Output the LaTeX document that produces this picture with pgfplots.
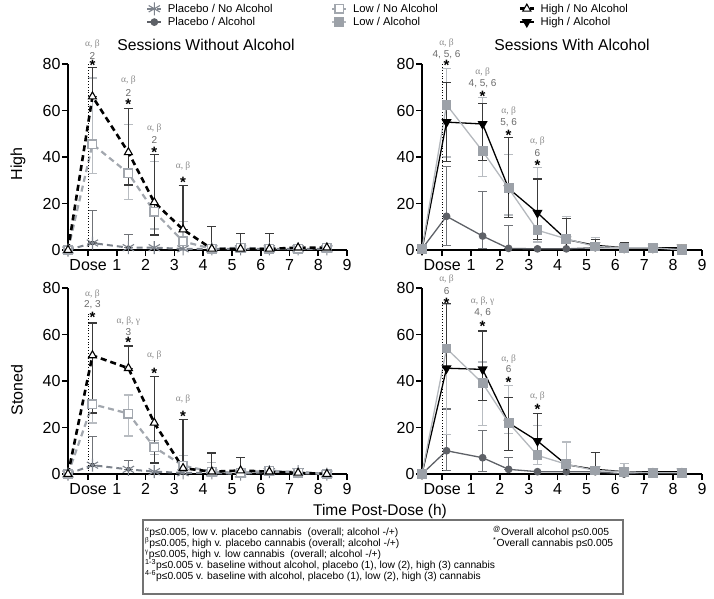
\documentclass[border=0pt]{standalone}
\usepackage{fontspec}
\setmainfont{Liberation Sans}
\newfontfamily\grk{Liberation Serif}
\usepackage{pgfplots}
\pgfplotsset{compat=1.18}

\definecolor{cPN}{HTML}{7D838C}
\definecolor{cLN}{HTML}{A2A7AE}
\definecolor{cPA}{HTML}{5E6167}
\definecolor{cLA}{HTML}{9CA1A8}
\definecolor{cLAl}{HTML}{B4B8BD}
\definecolor{eH}{HTML}{3A3A3A}
\definecolor{eL}{HTML}{B8BCC1}
\definecolor{eP}{HTML}{707378}
\definecolor{cAnn}{HTML}{8A8A8A}
\definecolor{cNum}{HTML}{6A6A6A}

\pgfplotsset{
  panel/.style={scale only axis, height=186pt,
    xmin=-0.7, xmax=9, ymin=0, ymax=80,
    axis x line*=bottom, axis y line*=left,
    axis line style={line width=2pt, -},
    xtick={0,...,9}, xticklabels={Dose,1,2,3,4,5,6,7,8,9},
    ytick={0,20,40,60,80},
    tick align=outside, major tick length=6pt,
    tick style={line width=1.6pt, black},
    /pgf/number format/assume math mode=true,
    ticklabel style={font=\fontsize{16}{18}\selectfont},
    yticklabel style={xshift=2pt},
    clip=false},
  legend image code/.code={
    \draw[mark repeat=2, mark phase=2, #1] plot coordinates {(0pt,0pt) (7pt,0pt) (14pt,0pt)};},
  dsh/.style={dash pattern=on 6pt off 4pt},
  pn/.style={color=cPN, line width=2pt, dsh, mark=asterisk, mark size=6.5pt,
    mark options={solid, line width=1.1pt}},
  ln/.style={color=cLN, line width=2.2pt, dsh, mark=square*, mark size=4.2pt,
    mark options={solid, fill=white, draw=cLN, line width=1.6pt}},
  hn/.style={color=black, line width=2.6pt, dsh, mark=triangle*, mark size=4.6pt,
    mark options={solid, fill=white, draw=black, line width=1.1pt}},
  pa/.style={color=cPA, line width=1.3pt, mark=*, mark size=3.2pt,
    mark options={fill=cPA, draw=cPA}},
  la/.style={color=cLAl, line width=1.3pt, mark=square*, mark size=4.3pt,
    mark options={fill=cLA, draw=cLA}},
  ha/.style={color=black, line width=1.3pt, mark=triangle*, mark size=4.6pt,
    mark options={rotate=180, fill=black}},
  eb/.style={forget plot, only marks, mark=none,
    error bars/.cd, y dir=both, y explicit,
    error bar style={color=#1, line width=1.3pt, solid},
    error mark options={rotate=90, color=#1, line width=1.3pt, mark size=4.5pt}},
}

\tikzset{
  gk/.style={font=\grk\fontsize{9.5}{9.5}\selectfont, text=cAnn, inner sep=0pt},
  nm/.style={font=\fontsize{10}{10}\selectfont, text=cNum, inner sep=0pt},
  st/.style={font=\bfseries\fontsize{15}{15}\selectfont, inner sep=0pt, yshift=-3.5pt},
}

\begin{document}
\begin{tikzpicture}[x=1pt, y=1pt]
\path[use as bounding box] (0pt,0pt) rectangle (714pt,598pt);

% ---------- High, sessions without alcohol ----------
\begin{axis}[panel, width=279pt, at={(68pt,348pt)},
  legend columns=3,
  legend style={at={(rel axis cs:0.28,1.333)}, anchor=north west,
    draw=none, fill=none, inner sep=0pt, row sep=0.5pt,
    font=\fontsize{11.3}{13}\selectfont, nodes={inner sep=1.5pt}},
  legend cell align=left]
\addlegendimage{pn}\addlegendentry{\makebox[166pt][l]{\hspace{4pt}Placebo / No Alcohol}}
\addlegendimage{ln}\addlegendentry{\makebox[168pt][l]{\hspace{4pt}Low / No Alcohol}}
\addlegendimage{hn}\addlegendentry{\makebox[120pt][l]{\hspace{4pt}High / No Alcohol}}
\addlegendimage{pa}\addlegendentry{\makebox[166pt][l]{\hspace{4pt}Placebo / Alcohol}}
\addlegendimage{la}\addlegendentry{\makebox[168pt][l]{\hspace{4pt}Low / Alcohol}}
\addlegendimage{ha}\addlegendentry{\makebox[120pt][l]{\hspace{4pt}High / Alcohol}}

\addplot[eb=eP] coordinates {(0.15,3) += (0,14) -= (0,0) (1.4,1) += (0,5.6) -= (0,0)};
\addplot[eb=eL] coordinates {(0.15,45.5) += (0,28.5) -= (0,12.5) (1.4,33) += (0,21) -= (0,11.4)
  (2.3,16.5) += (0,21.5) -= (0,7.5) (3.3,3.7) += (0,8.7) -= (0,3.7)};
\addplot[eb=eH] coordinates {(0.15,66) += (0,12.6) -= (0,0) (1.4,42) += (0,19) -= (0,14)
  (2.3,20.5) += (0,20.5) -= (0,14) (3.3,8.8) += (0,19) -= (0,0)
  (4.3,0.5) += (0,9.5) -= (0,0) (5.3,0.5) += (0,6.5) -= (0,0) (6.3,0.5) += (0,6.5) -= (0,0)};

\addplot[pn, forget plot] coordinates {(-0.7,0) (0.15,3) (1.4,1) (2.3,1) (3.3,0.5) (4.3,0.5) (5.3,0.5) (6.3,0.5) (7.3,0.5) (8.3,0.5)};
\addplot[ln, forget plot] coordinates {(-0.7,0) (0.15,45.5) (1.4,33) (2.3,16.5) (3.3,3.7) (4.3,0.5) (5.3,1) (6.3,0.5) (7.3,0.5) (8.3,1)};
\addplot[hn, forget plot] coordinates {(-0.7,0) (0.15,66) (1.4,42) (2.3,20.5) (3.3,8.8) (4.3,0.5) (5.3,0.5) (6.3,0.5) (7.3,1) (8.3,1)};

\draw[dotted, line width=0.8pt] (axis cs:0,0) -- (axis cs:0,80);
\node[gk] at (axis cs:0.15,88.6) {α, β};
\node[nm] at (axis cs:0.15,83.6) {2};
\node[st] at (axis cs:0.15,80.8) {*};
\node[gk] at (axis cs:1.4,72.9) {α, β};
\node[nm] at (axis cs:1.4,67.7) {2};
\node[st] at (axis cs:1.4,64) {*};
\node[gk] at (axis cs:2.3,52.3) {α, β};
\node[nm] at (axis cs:2.3,47.1) {2};
\node[st] at (axis cs:2.3,43.7) {*};
\node[gk] at (axis cs:3.3,36) {α, β};
\node[st] at (axis cs:3.3,30.7) {*};
\end{axis}

% ---------- High, sessions with alcohol ----------
\begin{axis}[panel, width=280pt, at={(422pt,348pt)}]
\addplot[eb=eP] coordinates {(0.15,14.5) += (0,21.5) -= (0,12.5) (1.4,6) += (0,19.3) -= (0,5.5)
  (2.3,0.7) += (0,9.7) -= (0,0)};
\addplot[eb=eL] coordinates {(0.15,62.5) += (0,15.5) -= (0,22.5) (1.4,42.5) += (0,23) -= (0,11)
  (2.3,26.5) += (0,14.5) -= (0,11.5) (3.3,8.5) += (0,27) -= (0,5) (4.3,4.8) += (0,9.7) -= (0,0)
  (5.3,1.5) += (0,4) -= (0,0)};
\addplot[eb=eH] coordinates {(0.15,55) += (0,17) -= (0,17) (1.4,54.2) += (0,8.8) -= (0,15.6)
  (2.3,26.5) += (0,22) -= (0,12.5) (3.3,16) += (0,14.5) -= (0,11.5) (4.3,4.5) += (0,9) -= (0,0)
  (5.3,2) += (0,2.5) -= (0,0) (6.3,1) += (0,2) -= (0,0) (7.3,1) += (0,1) -= (0,0) (8.3,1) += (0,0.5) -= (0,0)};

\addplot[pa] coordinates {(-0.7,0.5) (0.15,14.5) (1.4,6) (2.3,0.7) (3.3,0.5) (4.3,0.5) (5.3,1) (6.3,1) (7.3,1) (8.3,0.5)};
\addplot[ha] coordinates {(-0.7,0) (0.15,55) (1.4,54.2) (2.3,26.5) (3.3,16) (4.3,4.5) (5.3,2) (6.3,1) (7.3,1) (8.3,1)};
\addplot[la] coordinates {(-0.7,0.5) (0.15,62.5) (1.4,42.5) (2.3,26.5) (3.3,8.5) (4.3,4.8) (5.3,1.5) (6.3,1) (7.3,1) (8.3,0)};

\draw[dotted, line width=0.8pt] (axis cs:0,0) -- (axis cs:0,80);
\node[gk] at (axis cs:0.15,89) {α, β};
\node[nm] at (axis cs:0.15,84.2) {4, 5, 6};
\node[st] at (axis cs:0.15,80.8) {*};
\node[gk] at (axis cs:1.4,76.4) {α, β};
\node[nm] at (axis cs:1.4,71.7) {4, 5, 6};
\node[st] at (axis cs:1.4,67.8) {*};
\node[gk] at (axis cs:2.3,59.9) {α, β};
\node[nm] at (axis cs:2.3,54.8) {5, 6};
\node[st] at (axis cs:2.3,50.9) {*};
\node[gk] at (axis cs:3.3,46.6) {α, β};
\node[nm] at (axis cs:3.3,41.6) {6};
\node[st] at (axis cs:3.3,38) {*};
\end{axis}

% ---------- Stoned, sessions without alcohol ----------
\begin{axis}[panel, width=279pt, at={(68pt,124pt)}]
\addplot[eb=eP] coordinates {(0.15,3.8) += (0,12.2) -= (0,0) (1.4,2) += (0,3.8) -= (0,0)};
\addplot[eb=eL] coordinates {(0.15,30) += (0,35) -= (0,8) (1.4,26) += (0,8) -= (0,9.7)
  (2.3,11.5) += (0,3) -= (0,3) (3.3,3.6) += (0,4.4) -= (0,0) (4.3,1) += (0,4) -= (0,0)
  (6.3,1.5) += (0,1.8) -= (0,0)};
\addplot[eb=eH] coordinates {(0.15,51) += (0,14) -= (0,24.7) (1.4,45.5) += (0,9.5) -= (0,0)
  (2.3,22) += (0,20) -= (0,17.3) (3.3,2.5) += (0,21) -= (0,0) (4.3,1) += (0,8) -= (0,0)
  (5.3,1.5) += (0,5.5) -= (0,0)};

\addplot[pn] coordinates {(-0.7,0) (0.15,3.8) (1.4,2) (2.3,1) (3.3,0.5) (4.3,0.5) (5.3,0) (6.3,1) (7.3,1) (8.3,0)};
\addplot[ln] coordinates {(-0.7,0) (0.15,30) (1.4,26) (2.3,11.5) (3.3,3.6) (4.3,1) (5.3,0.5) (6.3,1.5) (7.3,0.5) (8.3,0)};
\addplot[hn] coordinates {(-0.7,0) (0.15,51) (1.4,45.5) (2.3,22) (3.3,2.5) (4.3,1) (5.3,1.5) (6.3,1) (7.3,0.5) (8.3,0)};

\draw[dotted, line width=0.8pt] (axis cs:0,0) -- (axis cs:0,69);
\node[gk] at (axis cs:0.15,77.4) {α, β};
\node[nm] at (axis cs:0.15,72.8) {2, 3};
\node[st] at (axis cs:0.15,68.8) {*};
\node[gk] at (axis cs:1.4,65.9) {α, β, γ};
\node[nm] at (axis cs:1.4,61.2) {3};
\node[st] at (axis cs:1.4,58) {*};
\node[gk] at (axis cs:2.3,51.2) {α, β};
\node[st] at (axis cs:2.3,45) {*};
\node[gk] at (axis cs:3.3,32.1) {α, β};
\node[st] at (axis cs:3.3,26.3) {*};
\end{axis}

% ---------- Stoned, sessions with alcohol ----------
\begin{axis}[panel, width=280pt, at={(422pt,124pt)}]
\addplot[eb=eP] coordinates {(0.15,10) += (0,18) -= (0,8.5) (1.4,7) += (0,11.8) -= (0,6)
  (2.3,2) += (0,5) -= (0,0)};
\addplot[eb=eL] coordinates {(0.15,54) += (0,18.8) -= (0,37) (1.4,39) += (0,9.2) -= (0,18)
  (2.3,22) += (0,16) -= (0,4.7) (3.3,8) += (0,13) -= (0,4) (4.3,4.2) += (0,9.6) -= (0,0)
  (6.3,1) += (0,3.5) -= (0,0)};
\addplot[eb=eH] coordinates {(0.15,45.5) += (0,27.8) -= (0,0) (1.4,45) += (0,16.5) -= (0,13.3)
  (2.3,22) += (0,11) -= (0,11.8) (3.3,14.2) += (0,11.8) -= (0,7.6) (5.3,2) += (0,7.3) -= (0,0)
  (7.3,1) += (0,1) -= (0,0)};

\addplot[pa] coordinates {(-0.7,0) (0.15,10) (1.4,7) (2.3,2) (3.3,1) (4.3,1) (5.3,1) (6.3,0) (7.3,1) (8.3,1)};
\addplot[ha] coordinates {(-0.7,0) (0.15,45.5) (1.4,45) (2.3,22) (3.3,14.2) (4.3,4) (5.3,2) (6.3,1) (7.3,1) (8.3,1)};
\addplot[la] coordinates {(-0.7,0) (0.15,54) (1.4,39) (2.3,22) (3.3,8) (4.3,4.2) (5.3,1.5) (6.3,1) (7.3,0.5) (8.3,0.5)};

\draw[dotted, line width=0.8pt] (axis cs:0,0) -- (axis cs:0,74);
\node[gk] at (axis cs:0.15,84) {α, β};
\node[nm] at (axis cs:0.15,78.5) {6};
\node[st] at (axis cs:0.15,75.1) {*};
\node[gk] at (axis cs:1.4,74.3) {α, β, γ};
\node[nm] at (axis cs:1.4,69.4) {4, 6};
\node[st] at (axis cs:1.4,65.1) {*};
\node[gk] at (axis cs:2.3,49.6) {α, β};
\node[nm] at (axis cs:2.3,45) {6};
\node[st] at (axis cs:2.3,41) {*};
\node[gk] at (axis cs:3.3,33.6) {α, β};
\node[st] at (axis cs:3.3,29.3) {*};
\end{axis}

% ---------- titles and labels ----------
\node[anchor=base, font=\fontsize{15.7}{18}\selectfont] at (206pt,547pt) {Sessions Without Alcohol};
\node[anchor=base, font=\fontsize{15.7}{18}\selectfont] at (572pt,547pt) {Sessions With Alcohol};
\node[rotate=90, font=\fontsize{16}{18}\selectfont] at (18pt,434pt) {High};
\node[rotate=90, font=\fontsize{16}{18}\selectfont] at (17pt,208pt) {Stoned};
\node[anchor=base, font=\fontsize{15.5}{18}\selectfont] at (380pt,83pt) {Time Post-Dose (h)};

% ---------- footnote box ----------
\draw[color=black!55, line width=1.2pt] (143pt,78pt) rectangle (623pt,4pt);
\begin{scope}[every node/.style={anchor=base west, inner sep=0pt, font=\fontsize{10.3}{12}\selectfont}]
\node at (145pt,63pt) {\textsuperscript{\grk α}p≤0.005, low v. placebo cannabis\ \ (overall; alcohol -/+)};
\node at (145pt,52pt) {\textsuperscript{\grk β}p≤0.005, high v. placebo cannabis (overall; alcohol -/+)};
\node at (145pt,41pt) {\textsuperscript{\grk γ}p≤0.005, high v. low cannabis\ \ (overall; alcohol -/+)};
\node at (145pt,30pt) {\textsuperscript{1-3}p≤0.005 v. baseline without alcohol, placebo (1), low (2), high (3) cannabis};
\node at (145pt,19pt) {\textsuperscript{4-6}p≤0.005 v. baseline with alcohol, placebo (1), low (2), high (3) cannabis};
\node at (493pt,63pt) {\textsuperscript{@}Overall alcohol p≤0.005};
\node at (493pt,52pt) {\textsuperscript{*}Overall cannabis p≤0.005};
\end{scope}
\end{tikzpicture}
\end{document}
